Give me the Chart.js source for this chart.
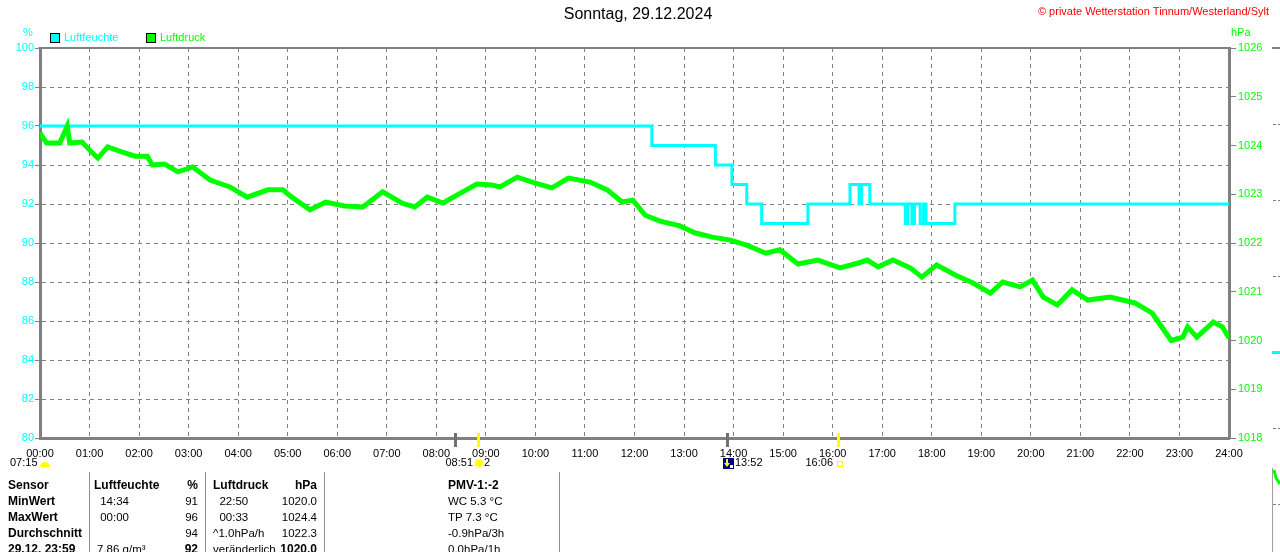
<!DOCTYPE html>
<html>
<head>
<meta charset="utf-8">
<title>Sonntag, 29.12.2024</title>
<script src="https://cdn.jsdelivr.net/npm/chart.js@4.4.1/dist/chart.umd.min.js"></script>
<style>
body{margin:0;background:#fff;overflow:hidden;font-family:"Liberation Sans",Arial,sans-serif;}
#wrap{position:relative;width:1280px;height:552px;}
#c{position:absolute;left:0;top:0;}
.t{position:absolute;font-size:11.5px;line-height:14px;white-space:pre;color:#000;}
.b{font-weight:bold;font-size:12px;}
.vl{position:absolute;width:1px;background:#909090;top:472px;height:80px;}
</style>
</head>
<body>
<div id="wrap">
<canvas id="c" width="1280" height="552"></canvas>
</div>
<script>
// Zeitachse (Minuten seit 00:00)
const zeitLabels = ['00:00','01:00','02:00','03:00','04:00','05:00','06:00','07:00','08:00','09:00','10:00','11:00','12:00',
  '13:00','14:00','15:00','16:00','17:00','18:00','19:00','20:00','21:00','22:00','23:00','24:00'];

// Luftfeuchte in %, Treppenkurve (Wert gilt ab Zeitpunkt)
const feuchteZeit  = [0,741,818,838,856,874,930,981,992,995,1005,1048,1051,1056,1059,1066,1070,1073,1108,1440];
const feuchteWerte = [96,95,94,93,92,91,92,93,92,93,92,91,92,91,92,91,92,91,92,92];

// Luftdruck in hPa
const druckZeit = [0,8,24,33,36,51,61,70,82,99,115,130,136,151,167,185,206,230,251,276,294,305,327,346,369,391,415,438,454,469,
  488,512,529,547,557,578,600,620,640,666,687,705,718,733,751,775,793,814,836,855,879,896,918,942,969,991,1002,1015,1033,1054,
  1068,1086,1109,1130,1151,1166,1187,1202,1215,1232,1250,1269,1296,1326,1347,1370,1384,1390,1401,1421,1432,1440];
const druckWerte = [1024.26,1024.05,1024.05,1024.4,1024.05,1024.07,1023.89,1023.74,1023.97,1023.87,1023.78,1023.78,1023.6,1023.62,
  1023.46,1023.56,1023.29,1023.15,1022.94,1023.09,1023.09,1022.94,1022.68,1022.84,1022.76,1022.74,1023.05,1022.82,1022.74,1022.94,
  1022.82,1023.05,1023.21,1023.19,1023.15,1023.35,1023.23,1023.13,1023.33,1023.25,1023.09,1022.84,1022.88,1022.57,1022.45,1022.35,
  1022.21,1022.12,1022.06,1021.96,1021.79,1021.86,1021.57,1021.65,1021.49,1021.59,1021.65,1021.51,1021.65,1021.49,1021.30,1021.55,
  1021.34,1021.18,1020.97,1021.2,1021.1,1021.24,1020.89,1020.73,1021.04,1020.83,1020.89,1020.77,1020.56,1020.0,1020.07,1020.28,
  1020.07,1020.38,1020.28,1020.05];

// Tabelle unten
const zeilen      = ['Sensor','MinWert','MaxWert','Durchschnitt','29.12. 23:59'];
const feuchteZeitTxt = ['Luftfeuchte',' 14:34',' 00:00','','7.86 g/m³'];
const feuchteTxt  = ['%','91','96','94','92'];
const druckZeitTxt = ['Luftdruck','  22:50','  00:33','^1.0hPa/h','veränderlich'];
const druckTxt    = ['hPa','1020.0','1024.4','1022.3','1020.0'];
const pmvTxt      = ['PMV-1:-2','WC 5.3 °C','TP 7.3 °C','-0.9hPa/3h','0.0hPa/1h'];

const titel = 'Sonntag, 29.12.2024';
const copyright = '© private Wetterstation Tinnum/Westerland/Sylt';

const CYAN = '#00ffff', GRUEN = '#00ff00', GRAU = '#808080';
const FONT = '"Liberation Sans", Arial, sans-serif';
Chart.defaults.font.family = FONT;

function hhmm(s){ const p = s.split(':'); return +p[0]*60 + +p[1]; }

const zusatz = {
  id: 'zusatz',
  afterDraw(chart){
    const ctx = chart.ctx, a = chart.chartArea, xs = chart.scales.x;
    ctx.save();
    // oberer Rahmen
    ctx.strokeStyle = GRAU; ctx.lineWidth = 2;
    ctx.beginPath(); ctx.moveTo(a.left - 1.5, a.top); ctx.lineTo(a.right + 1.5, a.top); ctx.stroke();

    ctx.textBaseline = 'middle';
    ctx.fillStyle = '#000'; ctx.font = '16px ' + FONT; ctx.textAlign = 'center';
    ctx.fillText(titel, 638, 15);
    ctx.fillStyle = '#ff0000'; ctx.font = '11px ' + FONT; ctx.textAlign = 'right';
    ctx.fillText(copyright, 1269, 12);

    // Einheiten + Legende
    ctx.textAlign = 'left'; ctx.font = '11px ' + FONT;
    ctx.fillStyle = CYAN; ctx.fillText('%', 23, 33);
    ctx.fillStyle = GRUEN; ctx.fillText('hPa', 1231, 33);
    [[50, CYAN, 'Luftfeuchte'], [146, GRUEN, 'Luftdruck']].forEach(([x, c, txt]) => {
      ctx.fillStyle = c; ctx.fillRect(x, 33, 10, 10);
      ctx.strokeStyle = '#000'; ctx.lineWidth = 1; ctx.strokeRect(x + 0.5, 33.5, 9, 9);
      ctx.fillStyle = c; ctx.fillText(txt, x + 14, 38);
    });

    // Marken auf der Zeitachse
    const marke = (t, c) => {
      const x = Math.round(xs.getPixelForValue(hhmm(t)));
      ctx.fillStyle = c; ctx.fillRect(x - 1, a.bottom - 5, 3, 14);
    };
    marke('08:23', '#707070'); marke('13:52', '#707070');
    marke('08:51', '#ffff00'); marke('16:06', '#ffff00');

    ctx.font = '11px ' + FONT; ctx.fillStyle = '#000';
    ctx.textAlign = 'left'; ctx.fillText('07:15', 10, 463);
    ctx.fillStyle = '#ffff00';
    ctx.beginPath(); ctx.arc(45, 467, 5, Math.PI, 0); ctx.fill();

    ctx.fillStyle = '#000'; ctx.textAlign = 'right'; ctx.fillText('08:51', 473, 463);
    ctx.fillStyle = '#ffffa0'; ctx.beginPath(); ctx.arc(479, 463, 5, 0, 2 * Math.PI); ctx.fill();
    ctx.fillStyle = '#ffff00'; ctx.beginPath(); ctx.arc(479, 463, 3.5, 0, 2 * Math.PI); ctx.fill();
    ctx.fillStyle = '#000'; ctx.textAlign = 'left'; ctx.fillText('2', 484, 463);

    ctx.fillStyle = '#000080'; ctx.fillRect(723, 458, 11, 11);
    ctx.fillStyle = '#ffff00'; ctx.fillRect(726, 459, 2, 5);
    ctx.beginPath(); ctx.moveTo(724, 463); ctx.lineTo(730, 463); ctx.lineTo(727, 467); ctx.fill();
    ctx.fillStyle = '#ffffff'; ctx.fillRect(730, 465, 3, 3);
    ctx.fillStyle = '#000'; ctx.fillText('13:52', 735, 463);

    ctx.textAlign = 'right'; ctx.fillText('16:06', 833, 463);
    ctx.strokeStyle = '#ffff00'; ctx.lineWidth = 1; ctx.strokeRect(837.5, 461.5, 5, 5);

    // Reste des Nachbardiagramms am rechten Rand
    ctx.strokeStyle = GRAU; ctx.lineWidth = 2;
    ctx.beginPath(); ctx.moveTo(1272, 48); ctx.lineTo(1280, 48); ctx.stroke();
    ctx.lineWidth = 1;
    [124, 200, 276, 428, 504].forEach(y => {
      ctx.beginPath(); ctx.moveTo(1273, y + 0.5); ctx.lineTo(1276, y + 0.5);
      ctx.moveTo(1278, y + 0.5); ctx.lineTo(1280, y + 0.5); ctx.stroke();
    });
    ctx.fillStyle = CYAN; ctx.fillRect(1272, 351, 8, 3);
    ctx.fillStyle = '#a0a0a0'; ctx.fillRect(1272, 468, 1, 84);
    ctx.strokeStyle = GRUEN; ctx.lineWidth = 3;
    ctx.beginPath(); ctx.moveTo(1274, 470); ctx.lineTo(1276, 478); ctx.lineTo(1280, 484); ctx.stroke();
    ctx.restore();
  }
};

new Chart(document.getElementById('c'), {
  type: 'line',
  data: {
    datasets: [
      {
        label: 'Luftdruck',
        data: druckZeit.map((t, i) => ({ x: t, y: druckWerte[i] })),
        yAxisID: 'yDruck',
        borderColor: GRUEN,
        borderWidth: 5,
        pointRadius: 0,
        tension: 0
      },
      {
        label: 'Luftfeuchte',
        data: feuchteZeit.map((t, i) => ({ x: t, y: feuchteWerte[i] })),
        yAxisID: 'y',
        borderColor: CYAN,
        borderWidth: 3,
        pointRadius: 0,
        stepped: 'before'
      }
    ]
  },
  options: {
    responsive: false,
    animation: false,
    layout: { padding: { top: 48, left: 0, right: 0, bottom: 0 } },
    plugins: { legend: { display: false }, title: { display: false }, tooltip: { enabled: false } },
    scales: {
      x: {
        type: 'linear', min: 0, max: 1440,
        afterFit: s => { s.height = 114; },
        ticks: {
          stepSize: 60, autoSkip: false, maxRotation: 0, padding: 9,
          color: '#000', font: { size: 11 },
          callback: v => zeitLabels[v / 60]
        },
        grid: { color: GRAU, lineWidth: 1, drawTicks: false },
        border: { color: GRAU, width: 3, dash: [4, 4] }
      },
      y: {
        position: 'left', min: 80, max: 100,
        afterFit: s => { s.width = 40; },
        ticks: { stepSize: 2, color: CYAN, font: { size: 11 }, padding: 1 },
        grid: { color: GRAU, lineWidth: 1, tickLength: 5, tickColor: GRAU, tickBorderDash: [] },
        border: { color: GRAU, width: 3, dash: [4, 4] }
      },
      yDruck: {
        position: 'right', min: 1018, max: 1026,
        afterFit: s => { s.width = 51; },
        ticks: { stepSize: 1, color: GRUEN, font: { size: 11 }, padding: 2, callback: v => String(v) },
        grid: { drawOnChartArea: false, tickLength: 7, tickColor: GRAU, tickBorderDash: [] },
        border: { color: GRAU, width: 3 }
      }
    }
  },
  plugins: [zusatz]
});

// Tabelle als Text
const wrap = document.getElementById('wrap');
function zelle(txt, x, row, bold, rechts){
  const d = document.createElement('div');
  d.className = 't' + (bold ? ' b' : '');
  d.textContent = txt;
  d.style.top = (478 + row * 16) + 'px';
  if (rechts) { d.style.left = (x - 120) + 'px'; d.style.width = '120px'; d.style.textAlign = 'right'; }
  else d.style.left = x + 'px';
  wrap.appendChild(d);
}
zeilen.forEach((z, i) => {
  zelle(z, 8, i, true, false);
  zelle(feuchteZeitTxt[i], i === 0 ? 94 : 97, i, i === 0, false);
  zelle(feuchteTxt[i], 198, i, i === 0 || i === 4, true);
  zelle(druckZeitTxt[i], 213, i, i === 0, false);
  zelle(druckTxt[i], 317, i, i === 0 || i === 4, true);
  zelle(pmvTxt[i], 448, i, i === 0, false);
});
[89, 205, 324, 559].forEach(x => {
  const l = document.createElement('div');
  l.className = 'vl'; l.style.left = x + 'px';
  wrap.appendChild(l);
});
</script>
</body>
</html>
